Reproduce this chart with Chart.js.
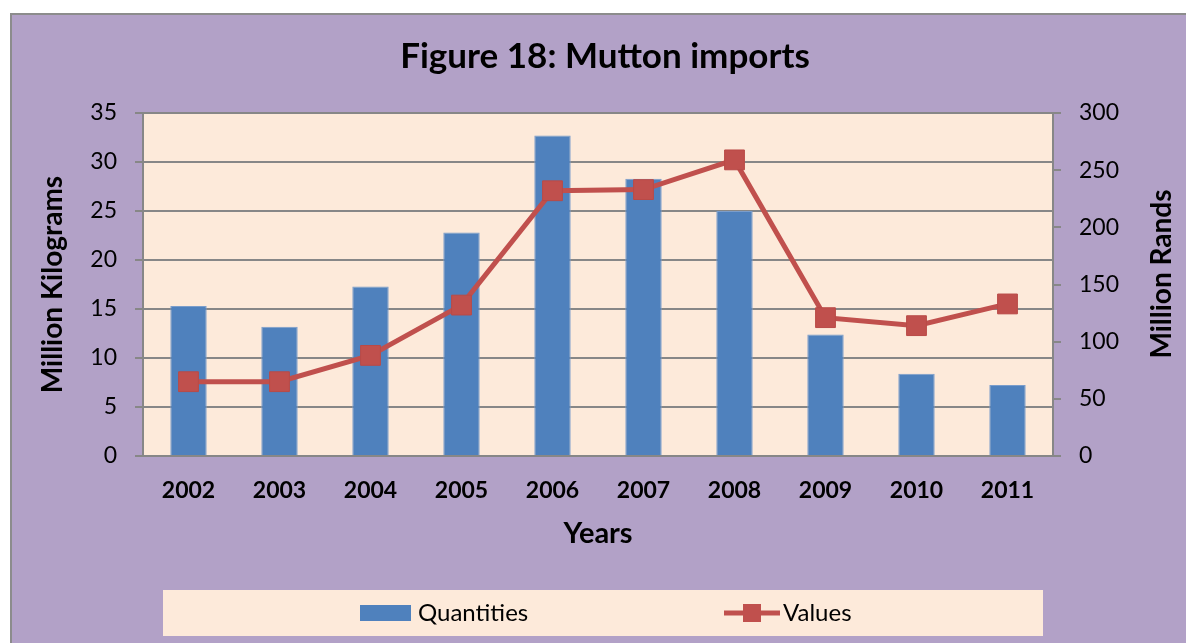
<!DOCTYPE html>
<html lang="en">
<head>
    <meta charset="UTF-8">
    <title>Figure 18: Mutton imports</title>
    <script src="https://cdn.jsdelivr.net/npm/chart.js@4.4.1/dist/chart.umd.min.js"></script>
    <style>
        html, body {
            margin: 0;
            padding: 0;
            background: #ffffff;
            overflow: hidden;
            width: 1186px;
            height: 643px;
        }
        .frame {
            position: absolute;
            left: 10px;
            top: 13px;
            width: 1200px;
            height: 640px;
            background: #B2A1C7;
            border-left: 2px solid #8c8c8c;
            border-top: 2px solid #8c8c8c;
        }
        .chart-box {
            position: absolute;
            left: 0;
            top: 0;
            width: 1186px;
            height: 628px;
        }
    </style>
</head>
<body>
    <div class="frame">
        <div class="chart-box">
            <canvas id="muttonChart"></canvas>
        </div>
    </div>

    <script>
        const years = ['2002', '2003', '2004', '2005', '2006', '2007', '2008', '2009', '2010', '2011'];
        const quantities = [15.3, 13.2, 17.3, 22.8, 32.7, 28.3, 25.0, 12.4, 8.4, 7.25];
        const values = [65, 65, 88, 132, 232, 233, 259, 121, 114, 133];

        const FONT = 'Lato, "Open Sans", sans-serif';
        const gridGray = '#878787';
        const peach = '#FDEADA';
        const blue = '#4F81BD';
        const red = '#C0504D';

        // peach plot area
        const plotBg = {
            id: 'plotBg',
            beforeDraw(chart) {
                const { ctx, chartArea: a } = chart;
                ctx.save();
                ctx.fillStyle = peach;
                ctx.fillRect(a.left, a.top, a.right - a.left, a.bottom - a.top);
                ctx.restore();
            }
        };

        // right-hand title (reads bottom to top) and the boxed legend
        const extras = {
            id: 'extras',
            afterDraw(chart) {
                const ctx = chart.ctx;
                ctx.save();
                ctx.fillStyle = '#000';
                ctx.font = 'bold 28px ' + FONT;
                ctx.textAlign = 'center';
                ctx.textBaseline = 'middle';
                ctx.translate(1150, 259);
                ctx.rotate(-Math.PI / 2);
                ctx.fillText('Million Rands', 0, 0);
                ctx.restore();

                // legend box
                ctx.save();
                ctx.fillStyle = peach;
                ctx.fillRect(151, 575, 880, 46);
                const ds = chart.data.datasets;
                ctx.font = '24px ' + FONT;
                ctx.textBaseline = 'middle';
                ctx.textAlign = 'left';

                ctx.fillStyle = ds[1].backgroundColor;
                ctx.fillRect(348, 590, 51, 16);
                ctx.fillStyle = '#000';
                ctx.fillText(ds[1].label, 406, 598);

                ctx.strokeStyle = ds[0].borderColor;
                ctx.lineWidth = 5;
                ctx.beginPath();
                ctx.moveTo(712, 598);
                ctx.lineTo(768, 598);
                ctx.stroke();
                ctx.fillStyle = ds[0].pointBackgroundColor;
                ctx.fillRect(731, 589, 18, 18);
                ctx.fillStyle = '#000';
                ctx.fillText(ds[0].label, 771, 598);
                ctx.restore();
            }
        };

        new Chart(document.getElementById('muttonChart'), {
            data: {
                labels: years,
                datasets: [
                    {
                        type: 'line',
                        label: 'Values',
                        data: values,
                        yAxisID: 'y1',
                        borderColor: red,
                        borderWidth: 5,
                        pointStyle: 'rect',
                        pointRadius: 14,
                        pointHoverRadius: 14,
                        pointBackgroundColor: red,
                        pointBorderColor: '#B94A47',
                        pointBorderWidth: 1,
                        tension: 0,
                        order: 0
                    },
                    {
                        type: 'bar',
                        label: 'Quantities',
                        data: quantities,
                        yAxisID: 'y',
                        backgroundColor: blue,
                        borderColor: '#7A9DCB',
                        borderWidth: 1,
                        barPercentage: 0.4,
                        categoryPercentage: 1,
                        order: 1
                    }
                ]
            },
            options: {
                responsive: true,
                maintainAspectRatio: false,
                animation: false,
                layout: { padding: { top: 0, left: 0, right: 0, bottom: 77 } },
                plugins: {
                    legend: { display: false },
                    tooltip: { enabled: false },
                    title: {
                        display: true,
                        text: 'Figure 18: Mutton imports',
                        color: '#000',
                        font: { family: FONT, size: 35, weight: 'bold', lineHeight: 1.2 },
                        padding: { top: 21, bottom: 35 }
                    }
                },
                scales: {
                    x: {
                        grid: { display: false, drawTicks: false },
                        border: { display: true, color: gridGray, width: 2 },
                        ticks: {
                            color: '#000',
                            padding: 21,
                            font: { family: FONT, size: 23, weight: 'bold' }
                        },
                        title: {
                            display: true,
                            text: 'Years',
                            color: '#000',
                            font: { family: FONT, size: 29, weight: 'bold' },
                            padding: { top: 0, bottom: 15 }
                        },
                        afterFit(scale) { scale.height = 110; }
                    },
                    y: {
                        position: 'left',
                        min: 0,
                        max: 35,
                        ticks: {
                            stepSize: 5,
                            color: '#000',
                            padding: 18,
                            font: { family: FONT, size: 23 }
                        },
                        grid: {
                            color: gridGray,
                            lineWidth: 2,
                            tickLength: 8,
                            tickColor: gridGray
                        },
                        border: { display: true, color: gridGray, width: 2 },
                        title: {
                            display: true,
                            text: 'Million Kilograms',
                            color: '#000',
                            font: { family: FONT, size: 28, weight: 'bold' },
                            padding: { top: 24, bottom: 0 }
                        },
                        afterFit(scale) { scale.width = 131; }
                    },
                    y1: {
                        position: 'right',
                        min: 0,
                        max: 300,
                        ticks: {
                            stepSize: 50,
                            color: '#000',
                            padding: 18,
                            font: { family: FONT, size: 23 }
                        },
                        grid: {
                            drawOnChartArea: false,
                            lineWidth: 2,
                            tickLength: 8,
                            tickColor: gridGray
                        },
                        border: { display: true, color: gridGray, width: 2 },
                        afterFit(scale) { scale.width = 145; }
                    }
                }
            },
            plugins: [plotBg, extras]
        });
    </script>
</body>
</html>
